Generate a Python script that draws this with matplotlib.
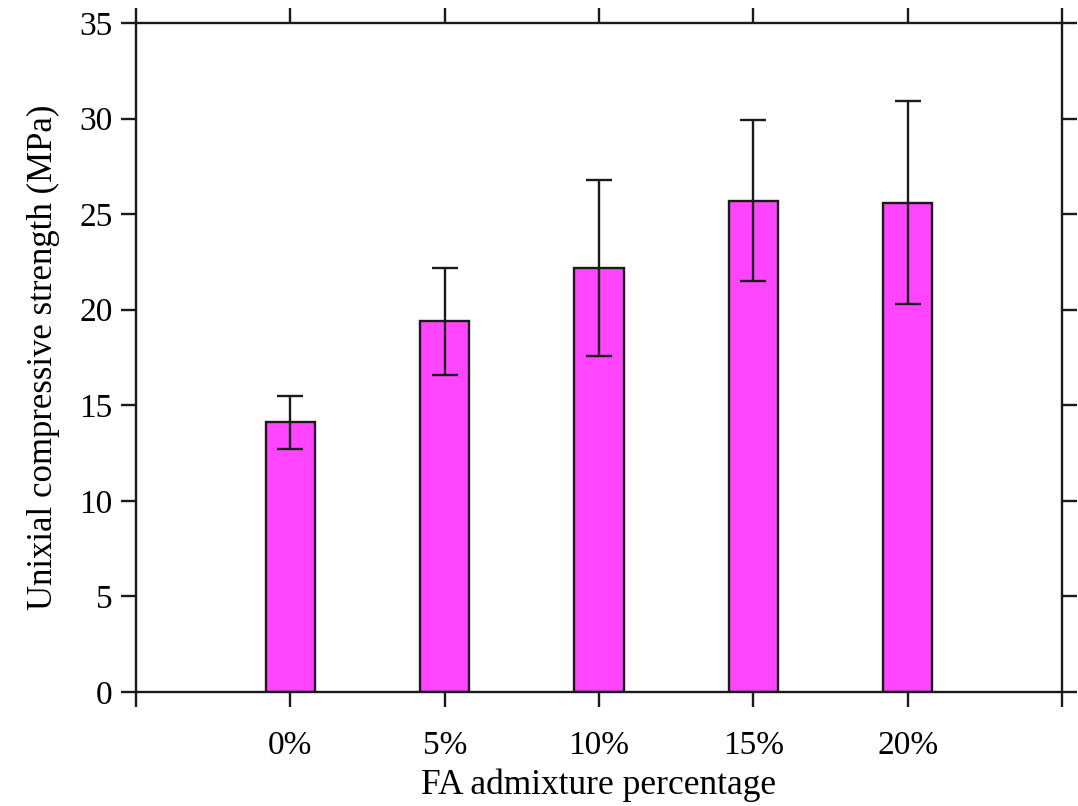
import matplotlib
matplotlib.use("Agg")
import matplotlib.pyplot as plt
import numpy as np

categories = ["0%", "5%", "10%", "15%", "20%"]
strength = [14.1, 19.4, 22.2, 25.7, 25.6]
errors = [1.4, 2.8, 4.6, 4.2, 5.3]

plt.rcParams['font.family'] = ['Liberation Serif', 'DejaVu Serif']

fig = plt.figure(figsize=(10.78, 8.06), dpi=100)
ax = fig.add_axes([0.1262, 0.1414, 0.859, 0.8301])

x = np.arange(1, len(categories) + 1)
ax.bar(x, strength, width=0.32, color='#FF45FF', edgecolor='#1a1a1a', linewidth=1.7, zorder=2)
ax.errorbar(x, strength, yerr=errors, fmt='none', ecolor='#1a1a1a', elinewidth=1.7,
            capsize=9.5, capthick=1.7, zorder=3)

ax.set_xlim(0, 6)
ax.set_ylim(0, 35)
ax.set_xticks(range(0, 7))
ax.set_xticklabels([""] + categories + [""])
ax.set_yticks(range(0, 36, 5))

for s in ax.spines.values():
    s.set_linewidth(1.7)
    s.set_color('#1a1a1a')

ax.tick_params(axis='both', which='major', direction='out', length=11, width=1.7,
               color='#1a1a1a', labelsize=24)
ax.tick_params(axis='x', top=True, bottom=True, pad=17)
ax.tick_params(axis='y', left=True, right=True, pad=6)

ax.set_xlabel("FA admixture percentage", fontsize=25.5, labelpad=5)
ax.set_ylabel("Unixial compressive strength (MPa)", fontsize=25, labelpad=14)

fig.savefig("out.png", dpi=100)
